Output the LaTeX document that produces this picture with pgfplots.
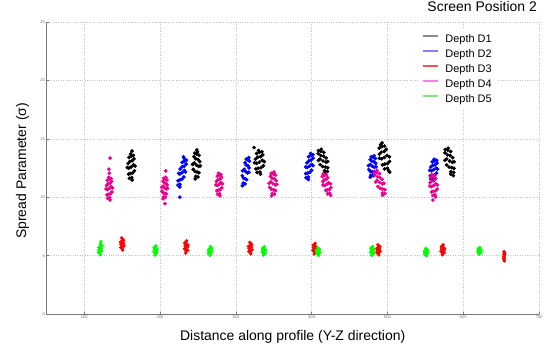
\documentclass[border=0pt]{standalone}
\usepackage{fontspec}
\setmainfont{Liberation Sans}
\usepackage{pgfplots}
\pgfplotsset{compat=1.18}
\definecolor{axgray}{RGB}{120,120,120}
\definecolor{gridgray}{RGB}{195,195,195}
\definecolor{legD1}{RGB}{140,140,140}
\definecolor{legD2}{RGB}{130,130,255}
\definecolor{legD3}{RGB}{255,80,80}
\definecolor{legD4}{RGB}{255,130,225}
\definecolor{legD5}{RGB}{130,225,130}
\begin{document}
\begin{tikzpicture}
\begin{axis}[
 width=492.6bp, height=292bp, scale only axis,
 xmin=50, xmax=700, ymin=0, ymax=25,
 xtick={100,200,...,700}, ytick={0,5,...,25},
 axis lines=left, axis line style={-, draw=axgray, line width=0.6pt},
 tick align=inside, major tick length=2.5bp, tick style={draw=axgray, line width=0.5pt},
 grid=major, major grid style={draw=gridgray, dotted, line width=0.6pt},
 ticklabel style={font=\fontsize{4.2}{5}\selectfont, text=axgray, inner sep=1.2bp},
 /pgf/number format/assume math mode=true,
 xlabel={Distance along profile (Y-Z direction)},
 ylabel={Spread Parameter (σ)},
 label style={font=\fontsize{14}{16}\selectfont},
 xlabel style={at={(axis description cs:0.5,-0.079)}, anchor=center},
 ylabel style={at={(axis description cs:-0.0485,0.49)}, anchor=center},
 title={Screen Position 2},
 title style={at={(axis description cs:1,1)}, anchor=south east, inner sep=0pt, yshift=3.7bp, xshift=-2bp, font=\fontsize{14}{16}\selectfont},
 legend style={at={(axis description cs:0.754,0.976)}, anchor=north west, draw=none, fill=white,
   font=\fontsize{11}{13}\selectfont, inner sep=4bp, row sep=2.5bp, column sep=6bp,
   nodes={inner sep=1bp, text height=8bp, text depth=2.5bp}},
 legend cell align=left,
 legend image code/.code={\draw[#1, line width=1.4pt] (0bp,3.5bp) -- (15bp,3.5bp);},
 every axis plot/.append style={only marks, mark=*},
]
\addlegendimage{legD1}\addlegendentry{Depth D1}
\addlegendimage{legD2}\addlegendentry{Depth D2}
\addlegendimage{legD3}\addlegendentry{Depth D3}
\addlegendimage{legD4}\addlegendentry{Depth D4}
\addlegendimage{legD5}\addlegendentry{Depth D5}
% Depth D1
\addplot[forget plot, black, mark size=1.7pt] coordinates {
(162,12.6) (165,12.77) (159,12.49) (163.2,13.12) (160.2,13.06) (163.8,12.08) (160.8,12.03) (162,13.52) (162.6,11.68) (165.6,13.29) (158.4,11.97) (166.2,12.26) (157.8,12.89) (161.1,13.69) (163.2,11.47) (164.7,13.58) (159.6,11.62) (167.1,12.66) (156.9,12.54) (159,13.41) (163,13.95)
(248,12.75) (245.1,12.93) (251,12.63) (247,13.29) (250,13.23) (246,12.21) (248.9,12.15) (248.4,13.71) (247,11.79) (244.7,13.47) (251.3,12.09) (243.7,12.39) (252.3,13.05) (249.4,13.89) (246.3,11.57) (245.7,13.77) (250,11.73) (242.9,12.81) (253.1,12.69) (251.4,13.59) (248.5,14.05)
(331,13) (334.8,13.16) (327.3,12.9) (332.5,13.47) (328.8,13.42) (333.3,12.53) (329.5,12.48) (331,13.84) (331.8,12.16) (335.5,13.63) (326.5,12.42) (336.3,12.69) (325.8,13.26) (329.9,14) (332.5,11.97) (334.4,13.89) (328,12.11) (337.4,13.05) (324.6,12.95) (327.3,13.74) (324,14.25)
(415,13.1) (411,13.26) (418.9,13) (412,13.57) (415.7,13.52) (414.5,12.63) (418.2,12.58) (412.2,13.94) (417.1,12.26) (408.7,13.73) (421.1,12.52) (411.2,12.79) (419,13.36) (412.7,14.1) (417,12.07) (408.9,13.99) (420.8,12.21) (408.9,13.15) (421.1,13.05) (416.1,13.84)
(496,13.4) (499.4,13.57) (492.4,13.29) (495.8,13.92) (492,13.86) (500.2,12.88) (496.4,12.83) (492.8,14.32) (500,12.48) (498.4,14.09) (493.4,12.77) (502.8,13.06) (489.4,13.69) (491,14.49) (501.5,12.27) (496.2,14.38) (496.2,12.42) (502.6,13.46) (489.4,13.34) (489.2,14.2) (493,14.65) (503,12.15)
(582,13.1) (578.1,13.27) (585.8,12.99) (579.3,13.62) (582.9,13.56) (581.3,12.58) (584.9,12.53) (579.6,14.02) (583.7,12.18) (576,13.79) (587.9,12.47) (578,12.76) (586.2,13.39) (580.2,14.19) (583.5,11.97) (576.3,14.08) (587.4,12.12) (575.9,13.16) (588.1,13.04) (583.4,13.91) (587,11.85)
};
% Depth D2
\addplot[forget plot, blue, mark size=1.7pt] coordinates {
(229,12.1) (232.1,12.29) (226.1,11.98) (231.8,12.66) (229.1,12.6) (228.7,11.54) (226,11.48) (232.2,13.1) (226.3,11.1) (234.4,12.85) (223.8,11.41) (231.3,11.73) (226.5,12.41) (232,13.29) (226.1,10.88) (234.7,13.16) (223.6,11.04) (233.5,12.16) (224.6,12.04) (229.3,12.98) (226,10.0) (231,13.45)
(313,12.2) (311,12.39) (315.2,12.08) (313.6,12.76) (315.9,12.7) (309.9,11.64) (312.3,11.58) (315.8,13.2) (309.7,11.2) (312.1,12.95) (314.1,11.51) (308.5,11.83) (317.4,12.51) (317.1,13.39) (308.6,10.98) (313.7,13.26) (312,11.14) (308.9,12.26) (317.1,12.14) (318,13.08)
(397,12.65) (400.1,12.82) (394,12.54) (399.2,13.17) (396.4,13.11) (397.5,12.13) (394.7,12.08) (399,13.57) (395.6,11.73) (401.8,13.34) (392.3,12.02) (400.1,12.31) (393.8,12.94) (398.6,13.74) (395.7,11.52) (401.6,13.63) (392.7,11.67) (401.8,12.71) (392.2,12.59) (396,13.46)
(480,12.65) (477.2,12.79) (482.9,12.56) (479.5,13.08) (482.4,13.03) (477.5,12.22) (480.5,12.18) (481.2,13.41) (478.2,11.89) (477.3,13.22) (482.8,12.13) (475.4,12.37) (484.6,12.89) (482.3,13.55) (477.3,11.72) (478.6,13.46) (481.1,11.84) (475,12.7) (485,12.6) (484.1,13.32)
(561,12.35) (564.2,12.49) (557.9,12.26) (562.9,12.78) (559.8,12.73) (562.1,11.92) (559.1,11.88) (562.2,13.11) (560.4,11.59) (565.5,12.92) (556.6,11.83) (564.8,12.07) (557.2,12.59) (561.5,13.25) (560.7,11.42) (565,13.16) (557.3,11.54) (566.2,12.4) (555.8,12.3) (559.1,13.02)
};
% Depth D3
\addplot[forget plot, red, mark size=1.45pt] coordinates {
(150,6) (151.8,6.08) (148.3,5.95) (150.7,6.25) (149,6.22) (151,5.75) (149.3,5.73) (150,6.44) (150.4,5.56) (152.1,6.33) (147.9,5.7) (152.5,5.84) (147.6,6.14) (149.5,6.52) (150.7,5.46)
(234.5,5.75) (232.8,5.83) (236.3,5.7) (233.8,6) (235.6,5.97) (233.5,5.5) (235.2,5.48) (234.5,6.19) (234.2,5.31) (232.4,6.08) (236.6,5.45) (232,5.59) (237,5.89) (235,6.27) (233.8,5.21)
(319,5.65) (320.8,5.73) (317.3,5.6) (319.7,5.88) (318,5.86) (320,5.42) (318.3,5.39) (319,6.07) (319.4,5.23) (321.1,5.96) (316.9,5.36) (321.5,5.49) (316.6,5.78) (318.5,6.14) (319.7,5.14)
(404,5.6) (402.3,5.67) (405.8,5.55) (403.3,5.82) (405.1,5.79) (403,5.38) (404.7,5.36) (404,5.98) (403.7,5.22) (401.9,5.89) (406.1,5.34) (401.6,5.46) (406.5,5.72) (404.5,6.06) (403.3,5.13)
(488,5.5) (489.8,5.57) (486.3,5.46) (488.7,5.7) (487,5.68) (489,5.3) (487.3,5.28) (488,5.86) (488.4,5.14) (490.1,5.77) (485.9,5.25) (490.5,5.37) (485.6,5.61) (487.5,5.93) (488.7,5.06)
(573,5.5) (571.3,5.57) (574.8,5.46) (572.3,5.7) (574.1,5.68) (572,5.3) (573.7,5.28) (573,5.86) (572.7,5.14) (570.9,5.77) (575.1,5.25) (570.6,5.37) (575.5,5.61) (573.5,5.93) (572.3,5.06)
(654,4.95) (654.8,5.01) (653.3,4.91) (654.3,5.14) (653.6,5.12) (654.5,4.76) (653.7,4.74) (654,5.29) (654.2,4.61) (654.9,5.2) (653.1,4.72) (653.8,5.35) (654.3,4.54)
};
% Depth D4
\addplot[forget plot, magenta, mark size=1.7pt] coordinates {
(133,10.75) (135.5,10.9) (130.5,10.65) (134,11.2) (131.5,11.15) (134.5,10.3) (132,10.25) (133,11.55) (133.5,9.95) (136,11.35) (130,10.2) (136.5,10.45) (129.5,11) (132.3,11.7) (134,9.77) (135.3,11.6) (131,9.9) (137.3,10.8) (128.8,10.7) (130.5,11.45) (134,13.35) (133,12.05) (132.5,12.4)
(206,10.8) (203.9,10.94) (208.2,10.71) (205.6,11.23) (207.8,11.18) (204.2,10.37) (206.4,10.33) (206.8,11.56) (204.8,10.04) (203.9,11.37) (208.2,10.28) (202.6,10.52) (209.4,11.04) (207.6,11.7) (204.1,9.87) (204.8,11.61) (207,9.99) (202.2,10.85) (209.8,10.75) (209,11.47) (207.5,12.25) (206.5,9.45)
(278,11.1) (280.5,11.25) (275.5,11) (279,11.55) (276.5,11.5) (279.5,10.65) (277,10.6) (278,11.9) (278.5,10.3) (281,11.7) (275,10.55) (281.5,10.8) (274.5,11.35) (277.3,12.05) (279,10.12) (280.3,11.95) (276,10.25) (282.3,11.15) (273.8,11.05) (275.5,11.8)
(349,11.15) (346.1,11.31) (352,11.05) (348,11.62) (351,11.57) (347,10.68) (349.9,10.63) (349.4,11.99) (348,10.31) (345.7,11.78) (352.3,10.57) (344.6,10.84) (353.3,11.41) (350.4,12.15) (347.3,10.12) (346.7,12.04) (351,10.26) (343.9,11.2) (354.1,11.1) (352.4,11.89)
(420,11.1) (422.4,11.24) (417.4,11.01) (419.4,11.53) (416.6,11.48) (423.6,10.67) (420.8,10.63) (416.8,11.86) (423.8,10.34) (421.2,11.67) (418.6,10.58) (425.4,10.82) (414.8,11.34) (415.3,12) (425.1,10.17) (419.3,11.91) (421,10.29) (424.9,11.15) (415.1,11.05) (414.2,11.77)
(490,11.25) (486.3,11.42) (493.5,11.14) (486.6,11.75) (489.8,11.69) (490.5,10.76) (493.7,10.7) (486,12.13) (493.4,10.37) (483.4,11.91) (496.4,10.65) (487.3,10.92) (493,11.53) (486.2,12.3) (493.7,10.17) (483.1,12.19) (496.7,10.32) (484.7,11.31) (495.4,11.2) (489.5,12.02)
(561,11) (563.8,11.15) (558.2,10.9) (561.5,11.45) (558.6,11.4) (563.5,10.55) (560.6,10.5) (559.8,11.8) (562.8,10.2) (563.7,11.6) (558.2,10.45) (565.7,10.7) (556.4,11.25) (558.7,11.95) (563.7,10.02) (562.4,11.85) (559.9,10.15) (566,11.05) (556,10.95) (557,11.7) (560,9.75)
};
% Depth D5
\addplot[forget plot, green, mark size=1.45pt] coordinates {
(121,5.55) (122.7,5.63) (119.3,5.5) (122,5.78) (120.4,5.75) (121.6,5.33) (120,5.3) (121.6,5.95) (120.7,5.15) (123.4,5.85) (118.6,5.28) (123,5.4) (119,5.68) (121.3,6.03) (120.9,5.06) (122,6.2)
(194,5.45) (192.4,5.51) (195.6,5.41) (193.4,5.64) (195,5.62) (193,5.26) (194.6,5.24) (194,5.79) (193.7,5.11) (192.1,5.7) (195.9,5.22) (191.8,5.32) (196.2,5.56) (194.5,5.85) (193.4,5.04)
(266,5.4) (267.7,5.46) (264.3,5.36) (267,5.58) (265.4,5.56) (266.6,5.22) (265,5.2) (266.6,5.72) (265.7,5.08) (268.4,5.64) (263.6,5.18) (268,5.28) (264,5.5) (266.3,5.78) (265.9,5.01)
(337,5.4) (335.4,5.46) (338.6,5.36) (336.4,5.57) (338,5.55) (336,5.23) (337.6,5.21) (337,5.7) (336.7,5.1) (335.1,5.63) (338.9,5.19) (334.8,5.29) (339.2,5.5) (337.5,5.76) (336.4,5.03)
(408.5,5.35) (410.1,5.4) (406.9,5.32) (409.1,5.51) (407.5,5.49) (409.5,5.19) (407.9,5.18) (408.5,5.63) (408.8,5.07) (410.4,5.56) (406.6,5.16) (410.7,5.25) (406.3,5.44) (408,5.68) (409.1,5.01)
(480,5.4) (478.4,5.46) (481.6,5.36) (479.4,5.58) (481,5.56) (479,5.22) (480.6,5.2) (480,5.72) (479.7,5.08) (478.1,5.64) (481.9,5.18) (477.8,5.28) (482.2,5.5) (480.5,5.78) (479.4,5.01)
(551,5.3) (552.6,5.35) (549.4,5.27) (551.6,5.45) (550,5.43) (552,5.15) (550.4,5.14) (551,5.56) (551.3,5.04) (552.9,5.5) (549.1,5.12) (553.2,5.2) (548.8,5.38) (550.5,5.61) (551.6,4.98)
(621.5,5.4) (620,5.45) (623,5.37) (620.9,5.54) (622.4,5.52) (620.6,5.27) (622.1,5.25) (621.5,5.64) (621.2,5.16) (619.7,5.58) (623.3,5.24) (619.4,5.31) (623.6,5.48) (622,5.69) (620.9,5.11)
};
\end{axis}
\pgfresetboundingbox
\path (current axis.south west) ++(-46.4bp,-39bp) rectangle ++(555bp,353bp);
\end{tikzpicture}
\end{document}
